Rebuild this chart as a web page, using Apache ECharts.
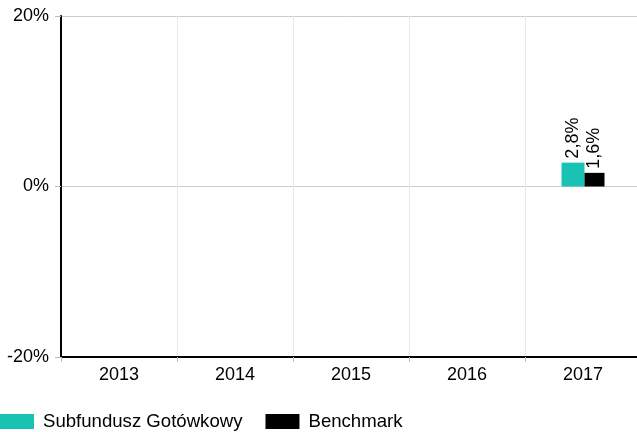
<!DOCTYPE html>
<html><head><meta charset="utf-8">
<script src="https://cdn.jsdelivr.net/npm/echarts@6/dist/echarts.min.js"></script>
<style>html,body{margin:0;padding:0;background:#fff}#c{width:637px;height:432px}</style>
</head><body><div id="c"></div>
<script>
var categories = ['2013','2014','2015','2016','2017'];
var fundValues = [null,null,null,null,2.8];
var benchValues = [null,null,null,null,1.6];
var seriesNames = ['Subfundusz Gotówkowy','Benchmark'];
var chart = echarts.init(document.getElementById('c'));
var font = 'Liberation Sans, Arial, sans-serif';
var lbl = {show:true, position:'top', rotate:90, align:'left', verticalAlign:'middle', distance:4,
  fontFamily:font, fontSize:18, color:'#000',
  formatter:function(p){return String(p.value).replace('.',',')+'%';}};
chart.setOption({
  animation:false,
  textStyle:{fontFamily:font},
  grid:{left:61,width:580,top:16,height:341,containLabel:false,outerBoundsMode:'none'},
  legend:{left:0,bottom:1,padding:0,itemWidth:34,itemHeight:15,itemGap:23,icon:'rect',
    textStyle:{fontFamily:font,fontSize:18.6,color:'#000',padding:[0,0,0,4]},data:seriesNames},
  xAxis:{type:'category',data:categories,
    axisLine:{onZero:false,lineStyle:{color:'#000',width:2}},
    axisTick:{show:true,alignWithLabel:false,length:5,lineStyle:{color:'#bbb'}},
    splitLine:{show:true,lineStyle:{color:'#e8e8e8'}},
    axisLabel:{fontFamily:font,fontSize:18,color:'#000',margin:9}},
  yAxis:{type:'value',min:-20,max:20,interval:20,
    axisLine:{show:true,lineStyle:{color:'#000',width:2}},
    axisTick:{show:true,length:6,lineStyle:{color:'#bbb'}},
    splitLine:{show:true,lineStyle:{color:'#cccccc'}},
    axisLabel:{fontFamily:font,fontSize:18,color:'#000',margin:12,formatter:'{value}%'}},
  series:[
    {name:seriesNames[0],type:'bar',data:fundValues,barWidth:23,barGap:'0%',itemStyle:{color:'#19C3B3'},label:lbl},
    {name:seriesNames[1],type:'bar',data:benchValues,barWidth:20,itemStyle:{color:'#000'},label:lbl}
  ]
});
</script></body></html>
